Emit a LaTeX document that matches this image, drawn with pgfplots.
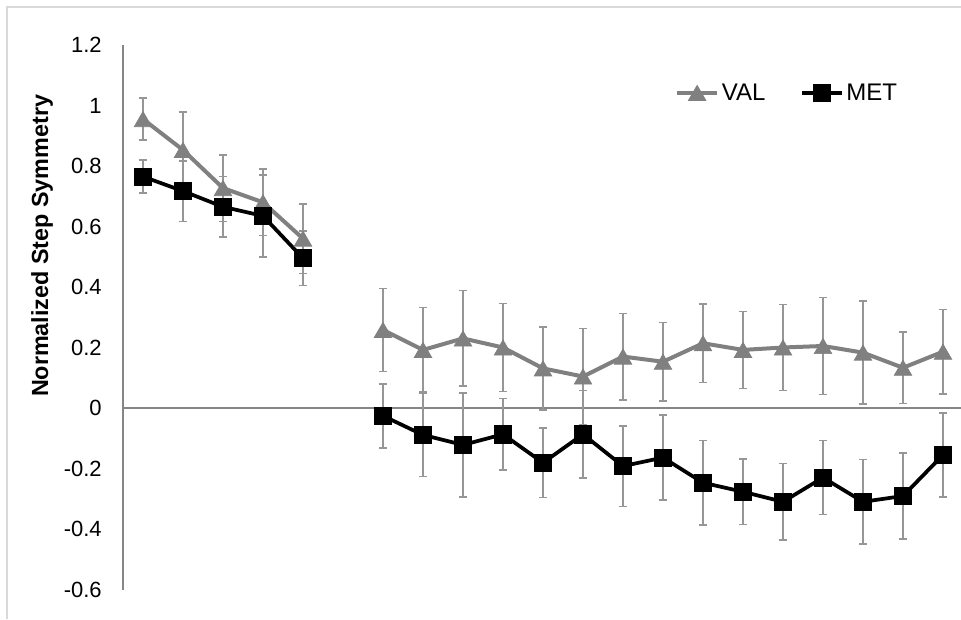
\documentclass[border=0pt]{standalone}
\usepackage{pgfplots}
\pgfplotsset{compat=1.18}
\usepackage{fontspec}
\setmainfont{Liberation Sans}
\definecolor{valgray}{HTML}{808080}
\definecolor{errgray}{HTML}{969696}
\definecolor{axgray}{HTML}{868686}
\definecolor{framegray}{HTML}{D9D9D9}
\begin{document}
\begin{tikzpicture}
\useasboundingbox (0,0) rectangle (720.75pt,464.25pt);
\draw[framegray, line width=1pt] (5.25pt,0) -- (5.25pt,459pt) -- (720.75pt,459pt);
\begin{axis}[
  at={(92.25pt,22.125pt)}, anchor=south west,
  scale only axis, width=630pt, height=408.375pt,
  xmin=0.5, xmax=21.5, ymin=-0.6, ymax=1.2,
  axis y line=left, axis x line=none,
  y axis line style={-, axgray, line width=1pt},
  ytick={-0.6,-0.4,...,1.2},
  yticklabels={-0.6,-0.4,-0.2,0,0.2,0.4,0.6,0.8,1,1.2},
  major tick length=0pt,
  /pgf/number format/assume math mode=true,
  yticklabel style={font=\fontsize{16.5}{18}\selectfont, inner sep=0pt, xshift=-15.75pt},
  ylabel={\textbf{Normalized Step Symmetry}},
  ylabel style={font=\fontsize{17.5}{20}\selectfont, at={(rel axis cs:-0.0964,0.631)}, anchor=center},
  unbounded coords=jump,
  clip=false,
  legend columns=2,
  legend style={draw=none, fill=none, at={(rel axis cs:0.657,0.912)}, anchor=west, inner sep=0pt,
    font=\fontsize{18}{20}\selectfont,
    nodes={inner sep=2pt},
    /tikz/every even column/.append style={column sep=24pt}},
  legend image code/.code={\draw[mark repeat=2,mark phase=2,#1] plot coordinates {(0pt,0pt) (15pt,0pt) (30pt,0pt)};},
]
\draw[axgray, line width=1pt] (axis cs:0.5,0) -- (axis cs:21.5,0);
\addplot[valgray, line width=3pt, mark=triangle*, mark size=7.6pt, mark options={solid, fill=valgray, draw=valgray, line width=0.5pt, yshift=-1.9pt},
  error bars/.cd, y dir=both, y explicit,
  error bar style={errgray, line width=1.2pt},
  error mark options={rotate=90, errgray, mark size=2.7pt, line width=1.2pt}]
table[x=x, y=y, y error=e] {
x y e
1 0.955 0.07
2 0.853 0.125
3 0.727 0.11
4 0.68 0.11
5 0.56 0.115
6 nan 0
7 0.258 0.137
8 0.192 0.14
9 0.23 0.158
10 0.2 0.146
11 0.131 0.137
12 0.104 0.159
13 0.17 0.143
14 0.153 0.13
15 0.214 0.13
16 0.192 0.127
17 0.2 0.142
18 0.205 0.16
19 0.183 0.17
20 0.133 0.118
21 0.186 0.14
};
\addlegendentry{VAL}
\addplot[black, line width=2.8pt, mark=square*, mark size=6.4pt, mark options={solid, fill=black, draw=black, line width=0.5pt},
  error bars/.cd, y dir=both, y explicit,
  error bar style={errgray, line width=1.2pt},
  error mark options={rotate=90, errgray, mark size=2.7pt, line width=1.2pt}]
table[x=x, y=y, y error=e] {
x y e
1 0.765 0.055
2 0.717 0.1
3 0.665 0.1
4 0.635 0.135
5 0.495 0.09
6 nan 0
7 -0.026 0.106
8 -0.089 0.137
9 -0.122 0.172
10 -0.087 0.118
11 -0.181 0.115
12 -0.087 0.145
13 -0.192 0.133
14 -0.164 0.14
15 -0.247 0.14
16 -0.277 0.108
17 -0.31 0.127
18 -0.23 0.122
19 -0.31 0.14
20 -0.291 0.143
21 -0.155 0.139
};
\addlegendentry{MET}
\end{axis}
\end{tikzpicture}
\end{document}
